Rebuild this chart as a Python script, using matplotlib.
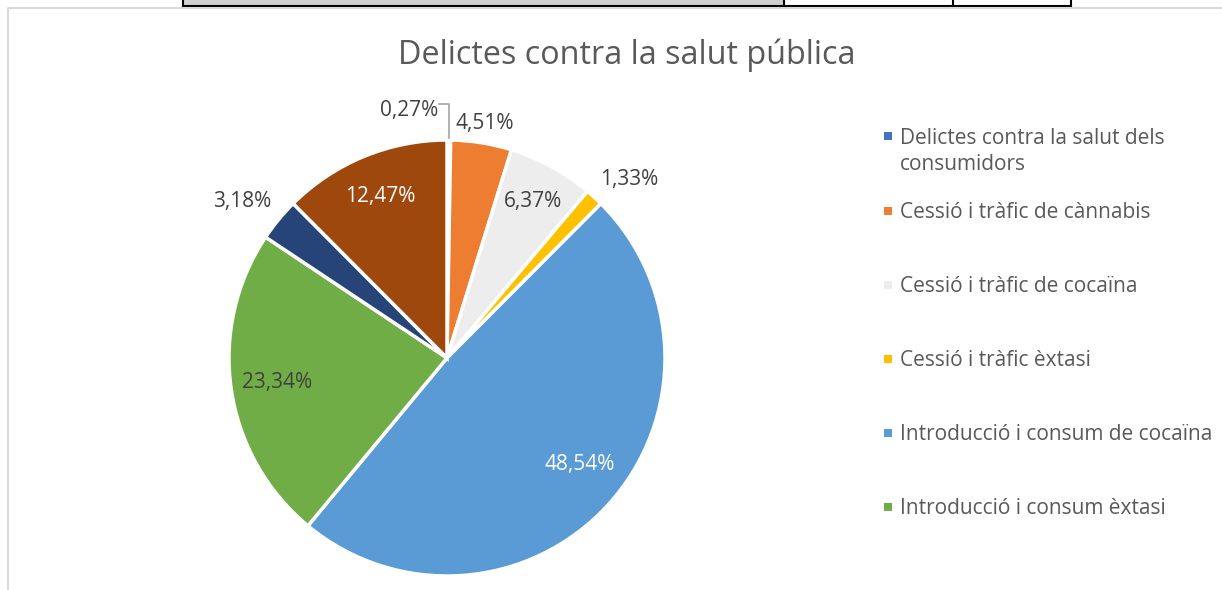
import numpy as np
import matplotlib.pyplot as plt
from matplotlib.patches import Rectangle
from matplotlib.lines import Line2D

plt.rcParams['font.family'] = ['Open Sans', 'DejaVu Sans']

# Slice shares (%) clockwise from 12 o'clock
shares = [0.27, 4.51, 6.37, 1.33, 48.54, 23.34, 3.18, 12.47]
colors = ['#4472C4', '#ED7D31', '#EDEDED', '#FFC000',
          '#5B9BD5', '#70AD47', '#264478', '#9E480E']
# only the first six legend entries are visible in the picture
legend_labels = ['Delictes contra la salut dels\nconsumidors',
                 'Cessió i tràfic de cànnabis',
                 'Cessió i tràfic de cocaïna',
                 'Cessió i tràfic èxtasi',
                 'Introducció i consum de cocaïna',
                 'Introducció i consum èxtasi']

W, H = 1222, 590
fig = plt.figure(figsize=(W / 100, H / 100), dpi=100)

# page furniture: table stub at the top and chart frame
def px(x, y):
    return x / W, 1 - y / H

fig.patches.append(Rectangle(px(183, 6), (784 - 183) / W, 6 / H, transform=fig.transFigure,
                             facecolor='#D0D0D0', edgecolor='none'))
for x0, x1, y0, y1 in [(183, 1071, 6, 6), (183, 183, 0, 6), (784, 784, 0, 6),
                       (953, 953, 0, 6), (1071, 1071, 0, 6)]:
    fig.lines.append(Line2D([x0 / W, x1 / W], [1 - y0 / H, 1 - y1 / H], transform=fig.transFigure,
                            color='black', lw=1.5))
fig.lines.append(Line2D([8 / W, 8 / W, 1.0], [0, 1 - 7.5 / H, 1 - 7.5 / H], transform=fig.transFigure,
                        color='#D9D9D9', lw=1.5))

fig.text(627 / W, 1 - 55 / H, 'Delictes contra la salut pública', ha='center', va='center',
         fontsize=23.3, color='#595959')

# pie axes: centre (447, 358) px, radius 218 px
R = 218
half = 300
ax = fig.add_axes([(447 - half) / W, (H - 358 - half) / H, 2 * half / W, 2 * half / H])
ax.axis('off')

wedges, _ = ax.pie(shares, colors=colors, startangle=90, counterclock=False, radius=1,
                   wedgeprops=dict(edgecolor='white', linewidth=2.5))
ax.set_xlim(-half / R, half / R)
ax.set_ylim(-half / R, half / R)

label_dist = [None, 1.09, 0.82, 1.17, 0.78, 0.79, 1.18, 0.80]
label_shift = [0, 0, 0, -3, 3.7, 0, 2, 0]
label_color = ['#404040', '#404040', '#404040', '#404040', 'white', '#404040', '#404040', 'white']
for w, v, d, s, c in zip(wedges, shares, label_dist, label_shift, label_color):
    txt = f'{v:.2f}'.replace('.', ',') + '%'
    a = np.deg2rad((w.theta1 + w.theta2) / 2 + s)
    if d is None:
        # tiny slice: label with leader line
        x0 = np.cos(a)
        ax.plot([x0, x0, x0 - 0.045], [1.01, 1.165, 1.165], color='#A6A6A6', lw=1.2)
        ax.text(x0 - 0.05, 1.135, txt, ha='right', va='center', fontsize=15, color=c)
        continue
    ax.text(d * np.cos(a), d * np.sin(a), txt, ha='center', va='center', fontsize=15, color=c)

# legend: marker sits on the first text line
line_h = 27
ys = [136] + [211 + 74 * i for i in range(5)]
for w, lab, y in zip(wedges, legend_labels, ys):
    n = lab.count('\n')
    fig.patches.append(Rectangle(((884) / W, 1 - (y + 4) / H), 8 / W, 8 / H, transform=fig.transFigure,
                                 facecolor=w.get_facecolor(), edgecolor='none'))
    fig.text(900 / W, 1 - (y + 2 + n * line_h / 2) / H, lab, ha='left', va='center', fontsize=15,
             color='#595959', linespacing=1.35)

fig.savefig('out.png', dpi=100)
